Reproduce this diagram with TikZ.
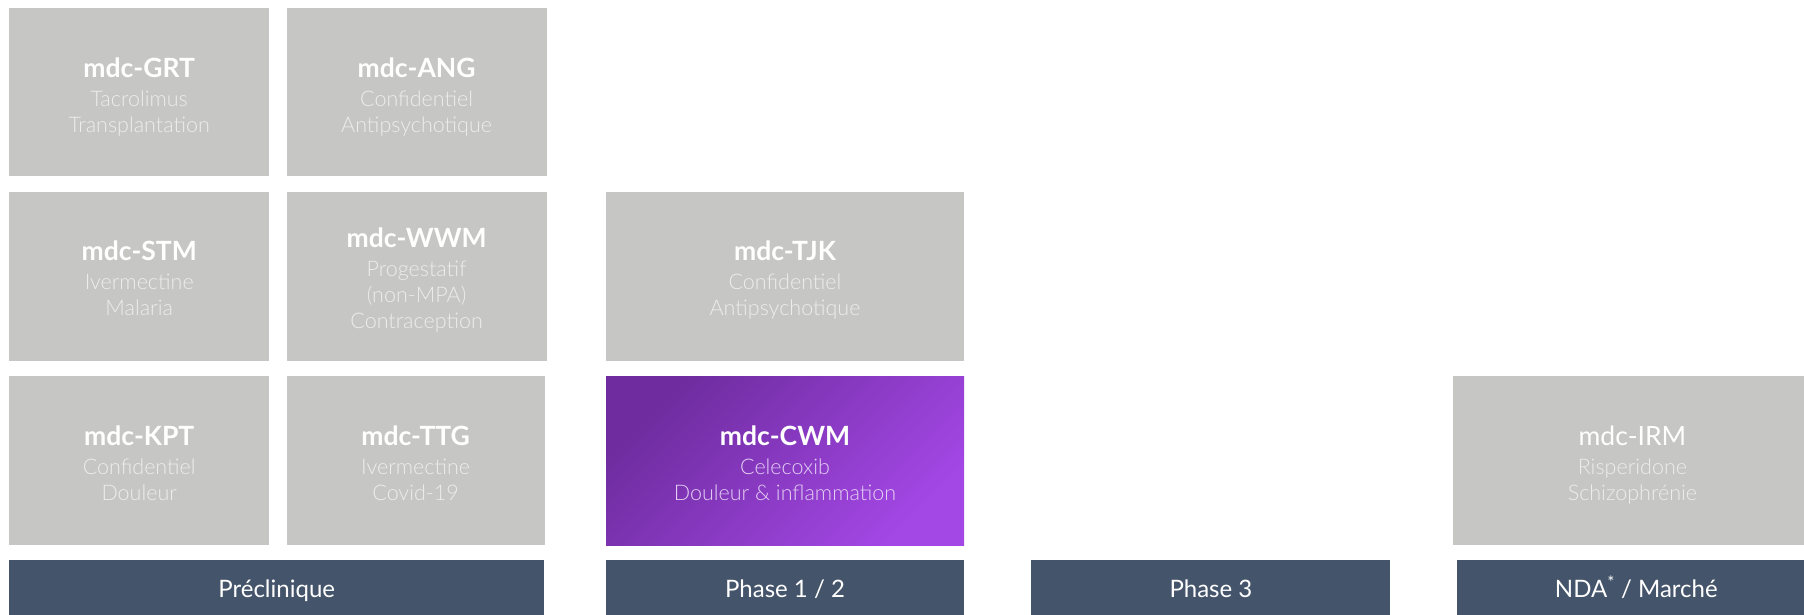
\documentclass[tikz,border=0pt]{standalone}
\usepackage{fontspec}
\setmainfont{Lato}
\newfontfamily\latolight{Lato Light}
\usetikzlibrary{positioning}
\definecolor{cardgray}{HTML}{C6C6C4}
\definecolor{barslate}{HTML}{44546A}
\definecolor{leaddark}{HTML}{6E2C9E}
\definecolor{leadlight}{HTML}{A347E5}
\definecolor{subgray}{HTML}{EDEDED}
\definecolor{sublilac}{HTML}{E4CFF4}
\newcommand{\cardtitle}[1]{{\rmfamily\bfseries\fontsize{26.5}{30}\selectfont\color{white}\rule{0pt}{32.5pt}#1}\\[3pt]}
\newcommand{\cardend}{\strut}
\tikzset{
  card/.style={fill=cardgray, inner sep=0pt, align=center, text=subgray,
               minimum width=260pt, minimum height=169pt,
               font=\latolight\fontsize{21.5}{26}\selectfont},
  widecard/.style={card, minimum width=358pt},
  leadcard/.style={widecard, left color=leaddark, right color=leadlight,
                   shading angle=45, text=sublilac},
  phasebar/.style={fill=barslate, inner sep=0pt, text=white,
                   minimum height=56pt, text height=19pt, text depth=0pt,
                   font=\rmfamily\fontsize{24}{28}\selectfont}
}
\begin{document}
\begin{tikzpicture}[x=1pt, y=-1pt]
  \useasboundingbox (0,0) rectangle (1804,614);
  % preclinique grid
  \node[card, minimum height=168pt, anchor=north west] (grt) at (9,8)
    {\cardtitle{mdc-GRT}Tacrolimus\\Transplantation\cardend};
  \node[card, minimum height=168pt, right=17pt of grt] (ang)
    {\cardtitle{mdc-ANG}Confidentiel\\Antipsychotique\cardend};
  \node[card, below=15pt of grt] (stm)
    {\cardtitle{mdc-STM}Ivermectine\\Malaria\cardend};
  \node[card, right=17pt of stm] (wwm)
    {\cardtitle{mdc-WWM}Progestatif\\(non-MPA)\\Contraception\cardend};
  \node[card, below=15pt of stm] (kpt)
    {\cardtitle{mdc-KPT}Confidentiel\\Douleur\cardend};
  \node[card, minimum width=258pt, right=17pt of kpt] (ttg)
    {\cardtitle{mdc-TTG}Ivermectine\\Covid-19\cardend};
  % phase 1/2
  \node[widecard, right=59pt of wwm] (tjk)
    {\cardtitle{mdc-TJK}Confidentiel\\Antipsychotique\cardend};
  \node[leadcard, below=15pt of tjk] (cwm)
    {\cardtitle{mdc-CWM}Celecoxib\\Douleur \& inflammation\cardend};
  % marche
  \node[widecard, right=489pt of cwm] (irm)
    {{\rmfamily\fontsize{26.5}{30}\selectfont\color{white}\rule{0pt}{32.5pt}mdc-IRM}\\[3pt]Risperidone\\Schizophrénie\cardend};
  % phase bars
  \node[phasebar, minimum width=535pt, anchor=north west] (pre)
    at ([yshift=-15pt]kpt.south west) {Préclinique};
  \node[phasebar, minimum width=358pt, below=15pt of cwm] (p12) {Phase 1 / 2};
  \node[phasebar, minimum width=359pt, right=67pt of p12] (p3) {Phase 3};
  \node[phasebar, minimum width=359pt, right=66pt of p3] (nda)
    {NDA\textsuperscript{*} / Marché};
\end{tikzpicture}
\end{document}
